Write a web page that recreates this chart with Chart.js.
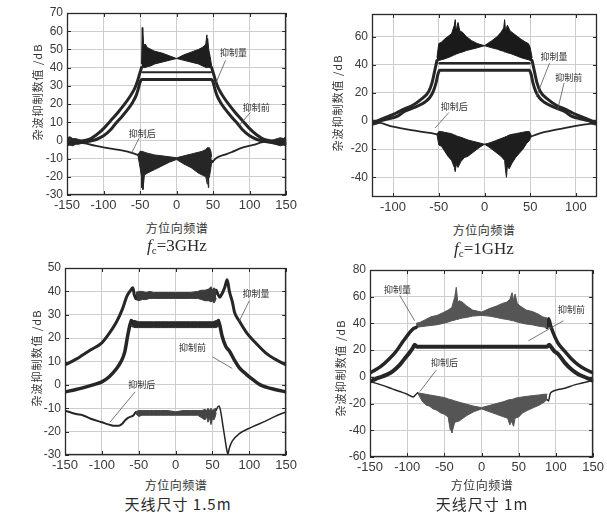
<!DOCTYPE html>
<html><head><meta charset="utf-8">
<script src="https://cdn.jsdelivr.net/npm/chart.js@4/dist/chart.umd.min.js"></script>
<style>
body{margin:0;background:#fff;width:607px;height:513px;position:relative;overflow:hidden;font-family:"Noto Sans CJK SC",sans-serif;color:#2a2a2a}
canvas{position:absolute}
.t{position:absolute;transform:translate(-50%,-50%);white-space:nowrap;line-height:1}
.yt{position:absolute;transform:translate(-50%,-50%) rotate(-90deg);white-space:nowrap;font-size:11px;letter-spacing:1px;line-height:1;color:#333}
.xt{font-size:12px;letter-spacing:0.5px;color:#333}
.cap{font-family:"Liberation Serif",serif;font-size:17px}
.cap sub{font-size:11px;vertical-align:-3px;line-height:0}
.capc{font-size:15px;letter-spacing:1px}
</style></head><body>
<canvas id="c1" width="300" height="215" style="left:0;top:0"></canvas>
<canvas id="c2" width="307" height="217" style="left:300px;top:0"></canvas>
<canvas id="c3" width="300" height="220" style="left:0;top:255px"></canvas>
<canvas id="c4" width="307" height="222" style="left:300px;top:255px"></canvas>

<div class="yt" style="left:37px;top:92px">杂波抑制数值 /dB</div>
<div class="t xt" style="left:177px;top:228px">方位向频谱</div>
<div class="t cap" style="left:177px;top:245px"><i>f</i><sub>c</sub>=3GHz</div>

<div class="yt" style="left:337px;top:103px">杂波抑制数值 /dB</div>
<div class="t xt" style="left:484px;top:230px">方位向频谱</div>
<div class="t cap" style="left:484px;top:248px"><i>f</i><sub>c</sub>=1GHz</div>

<div class="yt" style="left:36px;top:358px">杂波抑制数值 /dB</div>
<div class="t xt" style="left:176px;top:485px">方位向频谱</div>
<div class="t capc" style="left:178px;top:503px">天线尺寸 1.5m</div>

<div class="yt" style="left:340px;top:368px">杂波抑制数值 /dB</div>
<div class="t xt" style="left:482px;top:485px">方位向频谱</div>
<div class="t capc" style="left:482px;top:503px">天线尺寸 1m</div>

<script>
// ===== Panel 1: fc = 3GHz =====
const p1AmtL = [[-150,-1.5],[-135,-0.5],[-120,0.5],[-110,3],[-100,6.5],[-90,11],[-80,15.5],[-72,19.5],[-64,24],[-58,28],[-54,32],[-51,36],[-48,40]];
const p1AmtX = [-48,-47,-46.5,-46,-45,-43,-40,-35,-30,-20,-10,0,10,20,30,35,38,40,41.5,42,42.5,44,46,48];
const p1AmtHi = [42,62,50,60,52,53,51,50,49,48,46.5,45,47,48.5,50,51,52,53,58,52,56,50,46,41];
const p1AmtLo = [40,40,40,40,40,40,40.5,41,42,43,44,45,44,43,42,41,40.5,40,40,40,40,40,40,40];
const p1AmtR = [[48,40],[51,36],[54,32],[58,28],[64,24],[72,19.5],[80,15.5],[90,11],[100,6.5],[110,3],[120,0.5],[135,-0.5],[150,-1.5]];
const p1Bef = [[-150,-2],[-135,-1.5],[-120,-0.5],[-110,0.5],[-100,2.5],[-90,6],[-85,8.5],[-75,13],[-65,18],[-60,21],[-55,25],[-52,29],[-50,32],[-48,33.5],[0,33.5],[48,33.5],[50,32],[52,29],[55,25],[60,21],[65,18],[75,13],[85,8.5],[90,6],[100,2.5],[110,0.5],[120,-0.5],[135,-1.5],[150,-2]];
const p1Top = [[-47,37.5],[47,37.5]];
const p1AftL = [[-150,-0.5],[-128,-1.5],[-110,-3],[-90,-4.5],[-75,-5.5],[-60,-7],[-53,-8]];
const p1AftX = [-53,-50,-48,-47.5,-47,-46,-44,-40,-35,-30,-20,-10,0,10,20,30,35,40,42,43,43.5,44,45,47,48];
const p1AftHi = [-8,-6,-6,-6,-6,-6.5,-6.5,-7,-7.5,-8,-8.5,-9,-9.5,-8.5,-7.5,-6.5,-6,-5,-4,-4,-4,-4,-4,-6,-9];
const p1AftLo = [-8,-15,-20,-26,-18,-27,-19,-18,-17,-16,-14,-12,-10.5,-13,-15,-18,-19,-20,-24,-20,-26,-21,-20,-15,-12];
const p1AftR = [[48,-11],[49,-12],[51,-11],[55,-9.5],[65,-8],[75,-6.5],[90,-4],[105,-2.5],[118,-1],[135,-0.5],[150,-1]];
const p1EdgeLX = [-150,-146,-142,-138,-134,-130];
const p1EdgeLHi = [1.5,2,1,1,0.5,0];
const p1EdgeLLo = [-3,-2.5,-3,-2,-2,-1.5];
const p1EdgeRX = [130,134,138,142,146,150];
const p1EdgeRHi = [0,0.5,1,1.5,1,2];
const p1EdgeRLo = [-1.5,-2,-2.5,-3,-2.5,-3];

// ===== Panel 2: fc = 1GHz =====
const p2AmtL = [[-123,-1],[-119,-0.5],[-110,2],[-97,5.5],[-88,8.5],[-79,11],[-70,15],[-61,21],[-57,28],[-55,34],[-53,40],[-52,43]];
const p2AmtX = [-52,-50,-47,-44,-40,-36,-33,-32,-31,-29,-27,-24,-20,-14,-8,0,8,14,18,21,22,23,25,28,32,36,40,45,48,50,52];
const p2AmtHi = [45,55,56,58,60,62,68,72,64,70,64,63,60,57,55,53.5,57,60,63,66,72,64,68,64,62,60,58,56,55,52,45];
const p2AmtLo = [43,43,43.5,44,45,46,47,47,47.5,48,48.5,49,50,51,52,53.5,52,51,50,49.5,49,49,48.5,48,47,46,45,44,43.5,43,43];
const p2AmtR = [[52,43],[53,40],[55,34],[57,28],[61,21],[70,15],[79,11],[88,8.5],[97,5.5],[110,2],[119,-0.5],[123,-1]];
const p2Bef = [[-123,-1.5],[-115,0],[-105,1.5],[-95,3.5],[-87,7],[-75,10],[-65,13.5],[-60,16.5],[-56,21],[-53,27],[-51,33],[-49,36],[49,36],[51,33],[53,27],[56,21],[60,16.5],[65,13.5],[75,10],[87,7],[95,3.5],[105,1.5],[115,0],[123,-1.5]];
const p2Top = [[-49,41],[49,41]];
const p2AftL = [[-123,-1.5],[-119,-1],[-100,-4],[-80,-6.5],[-60,-8.5],[-52,-9.5]];
const p2AftX = [-52,-50,-47,-44,-40,-36,-33,-32,-31,-29,-26,-22,-18,-12,-6,0,6,12,18,22,23,24,25,27,30,34,38,42,46,49,51];
const p2AftHi = [-9.5,-7.5,-7.5,-8,-8.5,-9,-10,-10,-10.5,-11,-11.5,-12.5,-13.5,-14.5,-15.5,-16.5,-15.5,-14,-12.5,-11.5,-11,-11,-10.5,-10,-9.5,-9,-8.5,-8,-7.5,-7.5,-10];
const p2AftLo = [-9.5,-17,-18,-21,-25,-28,-33,-36,-31,-33,-29,-26,-25,-22,-19,-16.5,-19,-22,-25,-28,-35,-40,-32,-34,-30,-26,-23,-20,-16,-14,-11];
const p2AftR = [[51,-11],[55,-10],[65,-8],[80,-6],[100,-3.5],[115,-2],[123,-1.5]];
const p2EdgeLX = [-123,-119,-115];
const p2EdgeLHi = [0.5,0.5,0];
const p2EdgeLLo = [-3,-2.5,-1.5];
const p2EdgeRX = [115,119,123];
const p2EdgeRHi = [0,0.5,0.5];
const p2EdgeRLo = [-1.5,-2.5,-3];

// ===== Panel 3: antenna 1.5m =====
const p3AmtL = [[-150,8.5],[-135,11],[-126,12.8],[-115,15],[-100,18],[-90,22],[-80,27],[-72,32.5],[-66,38],[-62,40],[-58,41.5],[-56,38.5],[-54,37]];
const p3AmtX = [-54,-50,-45,-40,-35,-30,-20,-10,0,10,20,30,35,40,45,48,50,52,54,55];
const p3AmtHi = [39.5,40,40,39.5,40,39.5,39.5,39.5,39.5,39.5,39.5,40,40.5,40.5,41,42,40.5,41.5,41,40.5];
const p3AmtLo = [36.5,36,36.5,36.5,37,37,37,37,37,37,37,37,36.5,36,36,35.5,36,35,36,37];
const p3AmtR = [[55,40.5],[57,39],[60,37.5],[63,39],[67,42],[70,45],[73,40],[77,35.5],[80,31],[86,27.5],[96,22.5],[110,17.5],[123,13.5],[135,11],[150,8.5]];
const p3BefL = [[-150,-3],[-135,-2],[-126,-1.3],[-112,0],[-100,1.3],[-90,3.5],[-80,7],[-74,10],[-69,14],[-65,21],[-62,25.5],[-60,27.5]];
const p3BefX = [-60,-55,-50,-40,-30,-20,-10,0,10,20,30,40,50,55,58];
const p3BefHi = [27.5,27.5,27,27,27,27,27,27,27,27,27,27,27,27.5,27.5];
const p3BefLo = [25,24.5,24.5,24.5,24.5,24.5,24.5,24.5,24.5,24.5,24.5,24.5,24.5,24.5,25];
const p3BefR = [[58,27.5],[60,25.5],[63,21],[68,16.5],[73,14.5],[80,10.5],[86,7.5],[96,4.5],[104,2.5],[115,0],[123,-1],[135,-2],[150,-3]];
const p3AftL = [[-150,-11],[-135,-12.5],[-126,-13],[-115,-14.5],[-100,-16],[-90,-17],[-82,-17.5],[-77,-17.5],[-72,-16.5],[-68,-15],[-64,-14],[-60,-13.5],[-57,-13],[-55,-12]];
const p3AftX = [-55,-50,-45,-40,-35,-30,-20,-10,0,10,20,30,35,40,42,44,46,48,50,52,54,55];
const p3AftHi = [-11.5,-11,-11,-11,-11,-11,-11,-11,-11.5,-11,-11,-11,-11,-10.5,-11,-10,-11,-10,-11,-10.5,-10,-10.5];
const p3AftLo = [-12,-13.5,-13,-13,-13,-13,-13,-13,-13,-13,-13,-13,-14,-15,-13.5,-16,-14,-17,-14.5,-15,-13.5,-12];
const p3AftR = [[55,-11],[57,-9.5],[59,-9],[61,-11],[64,-17],[67,-23],[69,-27],[71,-29.5],[73,-27],[77,-24],[86,-21],[104,-18],[122,-15.5],[135,-13.5],[150,-11.5]];

// ===== Panel 4: antenna 1m =====
const p4AmtL = [[-150,3],[-142,5.5],[-135,8],[-125,13],[-115,19],[-105,27],[-97,33],[-92,36],[-88,37]];
const p4AmtX = [-88,-82,-75,-68,-60,-52,-45,-40,-36,-34,-32,-30,-26,-20,-12,0,10,20,28,34,38,41,43,45,48,52,60,68,76,82,88];
const p4AmtHi = [40,41,43,45,46,48,50,52,60,67,56,57,56,53,50,48.5,51,53,55,56,58,63,57,62,55,53,50,49,47,45,44];
const p4AmtLo = [37,37.5,38,38.5,39,40,41,42,42.5,43,43,43.5,44,44.5,45.5,46,45.5,44.5,43.5,43,42.5,42,42,41.5,41,40.5,39.5,39,38,37.5,37];
const p4AmtR = [[88,37],[90,43.5],[93,38],[97,32],[103,25],[112,19],[120,14],[130,9],[140,5.5],[150,3]];
const p4Bef = [[-150,-3.5],[-140,-1],[-128,1.5],[-120,4],[-110,9],[-103,14],[-97,18],[-92,22],[-90,24],[-87,22.5],[0,22.5],[88,22.5],[91,24],[94,22],[98,19],[103,17],[112,10.5],[121,5.5],[130,2],[140,-0.5],[150,-3]];
const p4AftL = [[-150,-3.5],[-135,-6],[-120,-9],[-110,-11],[-100,-13],[-92,-15],[-88,-13],[-86,-12]];
const p4AftX = [-86,-80,-75,-70,-65,-60,-55,-50,-45,-42,-41,-40,-36,-30,-20,-10,0,10,20,30,35,38,40,43,45,50,55,62,70,78,84,88];
const p4AftHi = [-12,-12.5,-13,-13.5,-14,-14.5,-15,-15.5,-16.5,-17,-17,-17.5,-18,-19,-20.5,-22,-23,-21.5,-20,-18.5,-17.5,-17,-17,-16.5,-16,-15.5,-15,-14.5,-14,-13.5,-13,-13];
const p4AftLo = [-12,-18,-21,-22,-24,-25,-27,-28,-30,-40,-33,-42,-34,-33,-29,-26,-24,-26,-28,-30,-31,-36,-33,-37,-31,-30,-27,-25,-23,-21,-19,-17];
const p4AftR = [[88,-17],[90,-18],[92,-13],[95,-11],[103,-9.5],[112,-8.5],[125,-6],[134,-4.8],[150,-2.5]];

// annotation labels (text + leader line, in data units)
const p1Notes = [{t:'抑制量',x:78,y:48,a:[67,44],b:[53.6,31.3]},{t:'抑制前',x:109,y:18,a:[101,15.3],b:[85,8]},{t:'抑制后',x:-47,y:4,a:[-51,1.5],b:[-62,-7.3]}];
const p2Notes = [{t:'抑制量',x:76,y:46,a:[71,41],b:[56.5,17]},{t:'抑制前',x:92,y:31,a:[87,27],b:[80,8]},{t:'抑制后',x:-33,y:10,a:[-39,6],b:[-54,-5]}];
const p3Notes = [{t:'抑制量',x:109,y:39,a:[100,36],b:[86,27]},{t:'抑制前',x:23,y:16,a:[50,12],b:[77,7]},{t:'抑制后',x:-46,y:0,a:[-55,-3],b:[-89,-16]}];
const p4Notes = [{t:'抑制量',x:-113,y:65.5,a:[-110,61],b:[-90,42]},{t:'抑制前',x:121,y:50,a:[110,42],b:[63,27]},{t:'抑制后',x:-50,y:11,a:[-61,5],b:[-83,-11]}];

// ---------- helpers ----------
const P = a => a.map(([x,y]) => ({x,y}));
const Z = (xs, ys) => xs.map((x,i) => ({x, y: ys[i]}));
const LC = '#262626';
const lineDs = (data, w, color) => ({data, borderColor: color || LC, borderWidth: w, pointRadius: 0, fill: false, cubicInterpolationMode: 'monotone'});
const bandDs = (xs, lo, hi, color) => [
  {data: Z(xs, lo), borderColor: color, borderWidth: 1, pointRadius: 0, fill: false, tension: 0},
  {data: Z(xs, hi), borderColor: color, borderWidth: 1, pointRadius: 0, fill: '-1', backgroundColor: color, tension: 0}
];

const frame = {
  id: 'frame',
  afterDraw(chart) {
    const {ctx, chartArea: a, scales: {x, y}} = chart;
    ctx.save();
    ctx.strokeStyle = '#2a2a2a';
    ctx.lineWidth = 1;
    ctx.beginPath();
    x.ticks.forEach(t => { const p = Math.round(x.getPixelForValue(t.value)) + 0.5; ctx.moveTo(p, a.bottom); ctx.lineTo(p, a.bottom - 4); ctx.moveTo(p, a.top); ctx.lineTo(p, a.top + 4); });
    y.ticks.forEach(t => { const p = Math.round(y.getPixelForValue(t.value)) + 0.5; ctx.moveTo(a.left, p); ctx.lineTo(a.left + 4, p); ctx.moveTo(a.right, p); ctx.lineTo(a.right - 4, p); });
    ctx.stroke();
    ctx.lineWidth = 1.3;
    ctx.strokeRect(Math.round(a.left) + 0.5, Math.round(a.top) + 0.5, Math.round(a.right - a.left) - 1, Math.round(a.bottom - a.top) - 1);
    ctx.restore();
  }
};

function makeChart(id, o) {
  const notesPlugin = {
    id: 'notes',
    afterDatasetsDraw(chart) {
      const {ctx, scales: {x, y}} = chart;
      ctx.save();
      ctx.strokeStyle = '#555';
      ctx.lineWidth = 0.8;
      o.notes.forEach(n => {
        ctx.beginPath();
        ctx.moveTo(x.getPixelForValue(n.a[0]), y.getPixelForValue(n.a[1]));
        ctx.lineTo(x.getPixelForValue(n.b[0]), y.getPixelForValue(n.b[1]));
        ctx.stroke();
        ctx.fillStyle = '#333';
        ctx.font = '9px "Noto Sans CJK SC"';
        ctx.textAlign = 'center';
        ctx.textBaseline = 'middle';
        ctx.fillText(n.t, x.getPixelForValue(n.x), y.getPixelForValue(n.y));
      });
      ctx.restore();
    }
  };
  const xFont = {family: '"Liberation Sans", Arial, sans-serif', size: 13};
  const yFont = {family: '"Liberation Sans", Arial, sans-serif', size: 12};
  new Chart(document.getElementById(id), {
    type: 'line',
    data: {datasets: o.datasets},
    options: {
      responsive: false, animation: false, events: [],
      layout: {padding: {top: o.pt, right: o.pr, left: 0, bottom: 0}},
      plugins: {legend: {display: false}, tooltip: {enabled: false}},
      elements: {line: {borderCapStyle: 'round', borderJoinStyle: 'round'}},
      scales: {
        x: {type: 'linear', min: o.xmin, max: o.xmax,
            afterFit: s => { s.height = o.xh; },
            ticks: {stepSize: 50, includeBounds: false, autoSkip: false, maxRotation: 0, padding: 3, color: '#3a3a3a', font: xFont},
            grid: {color: '#cdcdcd', drawTicks: false}, border: {display: false}},
        y: {type: 'linear', min: o.ymin, max: o.ymax,
            afterFit: s => { s.width = o.yw; },
            ticks: {stepSize: o.ystep, includeBounds: false, autoSkip: false, padding: 4, color: '#3a3a3a', font: yFont},
            grid: {color: '#cdcdcd', drawTicks: false}, border: {display: false}}
      }
    },
    plugins: [frame, notesPlugin]
  });
}

makeChart('c1', {xmin: -150, xmax: 150, ymin: -30, ymax: 70, ystep: 10, pt: 13, pr: 12, xh: 20, yw: 67, notes: p1Notes,
  datasets: [
    lineDs(P(p1AmtL), 3), ...bandDs(p1AmtX, p1AmtLo, p1AmtHi, '#1e1e1e'), lineDs(P(p1AmtR), 3),
    lineDs(P(p1Bef), 3), lineDs(P(p1Top), 2),
    lineDs(P(p1AftL), 1.8), ...bandDs(p1AftX, p1AftLo, p1AftHi, '#262626'), lineDs(P(p1AftR), 1.8),
    ...bandDs(p1EdgeLX, p1EdgeLLo, p1EdgeLHi, '#2a2a2a'), ...bandDs(p1EdgeRX, p1EdgeRLo, p1EdgeRHi, '#2a2a2a')
  ]});

makeChart('c2', {xmin: -123, xmax: 123, ymin: -54, ymax: 76, ystep: 20, pt: 14, pr: 10, xh: 20, yw: 72, notes: p2Notes,
  datasets: [
    lineDs(P(p2AmtL), 3), ...bandDs(p2AmtX, p2AmtLo, p2AmtHi, '#1a1a1a'), lineDs(P(p2AmtR), 3),
    lineDs(P(p2Bef), 3), lineDs(P(p2Top), 2.5),
    lineDs(P(p2AftL), 1.8), ...bandDs(p2AftX, p2AftLo, p2AftHi, '#1e1e1e'), lineDs(P(p2AftR), 1.8),
    ...bandDs(p2EdgeLX, p2EdgeLLo, p2EdgeLHi, '#2a2a2a'), ...bandDs(p2EdgeRX, p2EdgeRLo, p2EdgeRHi, '#2a2a2a')
  ]});

makeChart('c3', {xmin: -150, xmax: 150, ymin: -30, ymax: 50, ystep: 10, pt: 13, pr: 12, xh: 20, yw: 65, notes: p3Notes,
  datasets: [
    lineDs(P(p3AmtL), 3), ...bandDs(p3AmtX, p3AmtLo, p3AmtHi, '#3a3a3a'), lineDs(P(p3AmtR), 3),
    lineDs(P(p3BefL), 3.5), ...bandDs(p3BefX, p3BefLo, p3BefHi, '#2a2a2a'), lineDs(P(p3BefR), 3.5),
    lineDs(P(p3AftL), 2), ...bandDs(p3AftX, p3AftLo, p3AftHi, '#444'), lineDs(P(p3AftR), 1.5)
  ]});

makeChart('c4', {xmin: -150, xmax: 150, ymin: -60, ymax: 80, ystep: 20, pt: 15, pr: 12, xh: 20, yw: 70, notes: p4Notes,
  datasets: [
    lineDs(P(p4AmtL), 3.5), ...bandDs(p4AmtX, p4AmtLo, p4AmtHi, '#555'), lineDs(P(p4AmtR), 3.5),
    lineDs(P(p4Bef), 4),
    lineDs(P(p4AftL), 1.5), ...bandDs(p4AftX, p4AftLo, p4AftHi, '#555'), lineDs(P(p4AftR), 1.5)
  ]});
</script>
</body></html>
